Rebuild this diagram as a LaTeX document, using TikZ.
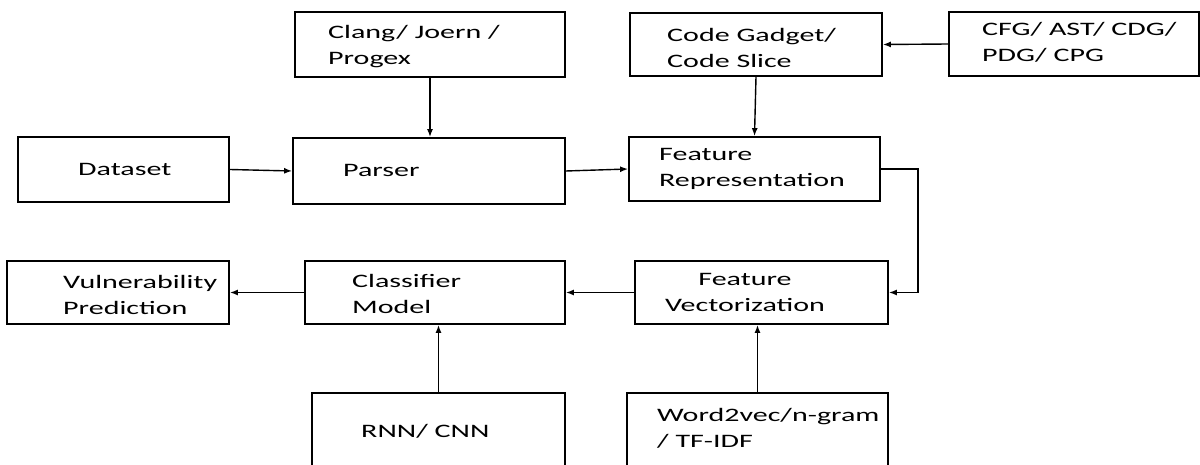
\documentclass[tikz,border=0pt]{standalone}
\usepackage{fontspec}
\setmainfont{Carlito}[FakeStretch=1.58]
\usetikzlibrary{arrows.meta}
\begin{document}
\begin{tikzpicture}[x=1pt,y=-1pt,
    box/.style={draw,line width=1.8pt,inner sep=0pt},
    txt/.style={anchor=base west,align=left,inner sep=0pt,
      font=\fontsize{19}{26}\selectfont},
    flow/.style={line width=1.4pt,-{Latex[length=8pt,width=6pt]}}]
  \useasboundingbox (0,0) rectangle (1200,465);
  % boxes: name/left/top/right/bottom
  \foreach \nm/\xa/\ya/\xb/\yb in {clang/295/12/565/77, code/630/13/882/76,
      cfg/949/12/1199/76, data/18/137/229/202, parser/293/138/565/204,
      rep/629/137/880/201, vuln/7/261/229/324, clf/305/261/565/324,
      vec/635/261/888/324, rnn/312/393/565/490, wvec/627/393/888/490}
    \node[box,minimum width=\xb-\xa,minimum height=\yb-\ya]
      (\nm) at ({(\xa+\xb)/2},{(\ya+\yb)/2}) {};
  % texts (base = last line)
  \node[txt] (clang-t) at (328,65) {Clang/ Joern /\\Progex};
  \node[txt] (code-t) at (667,68) {Code Gadget/\\Code Slice};
  \node[txt] (cfg-t) at (982,62) {CFG/ AST/ CDG/\\PDG/ CPG};
  \node[txt] (data-t) at (78,176) {Dataset};
  \node[txt] (parser-t) at (343,177) {Parser};
  \node[txt] (rep-t) at (659,187) {Feature\\Representation};
  \node[txt] (vuln-t) at (63,314) {Vulnerability\\Prediction};
  \node[txt] (clf-t) at (352,313) {Classifier\\Model};
  \node[txt,align=center,anchor=base] (vec-t) at (745,311) {Feature\\Vectorization};
  \node[txt] (rnn-t) at (361,437) {RNN/ CNN};
  \node[txt] (wvec-t) at (657,447) {Word2vec/n-gram\\/ TF-IDF};
  % connectors
  \draw[flow] (clang.south) -- (clang.south |- parser.north);
  \draw[flow] (data.east) -- (parser.west);
  \draw[flow] (parser.east) -- (rep.west);
  \draw[flow] (cfg.west) -- (code.east);
  \draw[flow] (code.south) -- (rep.north);
  \draw[flow] (rep.east) -- ++(37,0) |- (vec.east);
  \draw[flow] (vec.west) -- (vec.west -| clf.east);
  \draw[flow] (clf.west) -- (clf.west -| vuln.east);
  \draw[flow] (rnn.north) -- (rnn.north |- clf.south);
  \draw[flow] (wvec.north) -- (wvec.north |- vec.south);
\end{tikzpicture}
\end{document}
